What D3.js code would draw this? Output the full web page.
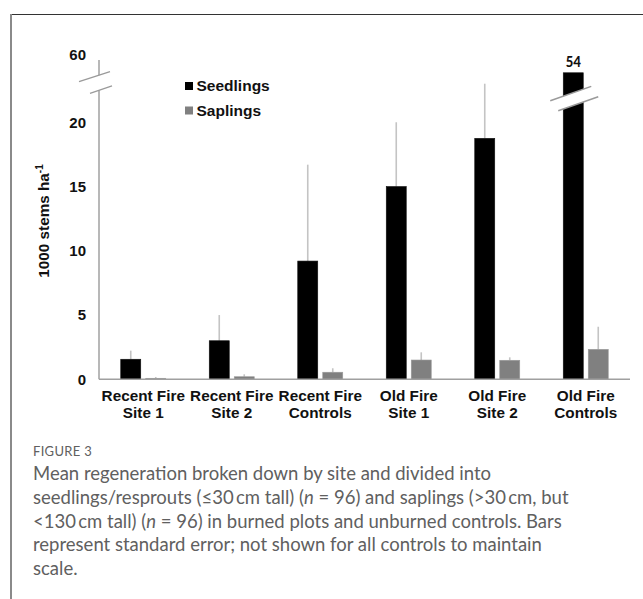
<!DOCTYPE html>
<html>
<head>
<meta charset="utf-8">
<script src="https://cdn.jsdelivr.net/npm/d3@7"></script>
<style>
  html, body { margin: 0; padding: 0; background: #fff; }
  svg { display: block; }
</style>
</head>
<body>
<svg id="chart" width="643" height="599"></svg>
<script>
// ---------- data ----------
const categories = ["Recent Fire Site 1", "Recent Fire Site 2", "Recent Fire Controls",
                    "Old Fire Site 1", "Old Fire Site 2", "Old Fire Controls"];
const seriesNames = ["Seedlings", "Saplings"];
const seedlings   = [1.56, 3.0, 9.2, 15.0, 18.75, 54];
const seedlingSE  = [0.67, 2.0, 7.5, 5.0, 4.25, null];
const saplings    = [0.08, 0.2, 0.55, 1.5, 1.48, 2.33];
const saplingSE   = [0.1, 0.19, 0.31, 0.6, 0.23, 1.76];
const yTickValues = [0, 5, 10, 15, 20, 25];
const yTickLabels = ["0", "5", "10", "15", "20", "60"];
const yAxisBreak  = [22.49, 23.66];   // broken axis segment
const barBreak    = [21.3, 22.3];     // break drawn on the clipped bar
const barCap      = 23.85;            // height at which off-scale bars are drawn
const yTitle = "1000 stems ha";
const captionHead = "FIGURE 3";
const captionLines = [
  [["Mean regeneration broken down by site and divided into", false]],
  [["seedlings/resprouts (≤30\u2009cm tall) (", false], ["n", true], [" = 96) and saplings (>30\u2009cm, but", false]],
  [["<130\u2009cm tall) (", false], ["n", true], [" = 96) in burned plots and unburned controls. Bars", false]],
  [["represent standard error; not shown for all controls to maintain", false]],
  [["scale.", false]]
];

// ---------- layout ----------
const svg = d3.select("#chart");
const left = 99, right = 630, baseY = 379.3, topY = 58;
const colors = { Seedlings: "#000000", Saplings: "#808080" };
const boldFont = "'Liberation Sans', Arial, sans-serif";

// frame
svg.append("line").attr("x1", 11).attr("x2", 643).attr("y1", 14.5).attr("y2", 14.5)
  .attr("stroke", "#333").attr("stroke-width", 1.2);
svg.append("line").attr("x1", 11).attr("x2", 11).attr("y1", 14).attr("y2", 599)
  .attr("stroke", "#8a8a8a").attr("stroke-width", 2);

const x = d3.scaleBand().domain(categories).range([left, right]).paddingInner(0).paddingOuter(0);
const xs = d3.scaleBand().domain(seriesNames)
  .range([x.bandwidth() / 2 - 22.5, x.bandwidth() / 2 + 22.5]).paddingInner(0.2).paddingOuter(0);
const y = d3.scaleLinear().domain([0, 25]).range([baseY, topY]);

const rows = categories.map((c, i) => ({
  cat: c,
  vals: [
    { s: "Seedlings", v: seedlings[i], se: seedlingSE[i] },
    { s: "Saplings", v: saplings[i], se: saplingSE[i] }
  ]
}));

// error bars (behind bars)
const g = svg.append("g");
rows.forEach(r => {
  r.vals.forEach(d => {
    if (d.se == null) return;
    const cx = x(r.cat) + xs(d.s) + xs.bandwidth() / 2;
    g.append("line").attr("x1", cx).attr("x2", cx)
      .attr("y1", y(Math.min(d.v, barCap))).attr("y2", y(d.v + d.se))
      .attr("stroke", "#c4c4c4").attr("stroke-width", 1.6);
  });
});

// bars
rows.forEach(r => {
  g.selectAll(null).data(r.vals).join("rect")
    .attr("x", d => x(r.cat) + xs(d.s))
    .attr("width", xs.bandwidth())
    .attr("y", d => y(Math.min(d.v, barCap)))
    .attr("height", d => baseY - y(Math.min(d.v, barCap)))
    .attr("fill", d => colors[d.s])
    .attr("stroke", d => d.s === "Saplings" ? "#9a9a9a" : "#111")
    .attr("stroke-width", 0.6);
});

// break on off-scale bar + value label
rows.forEach(r => {
  const d = r.vals[0];
  if (d.v <= barCap) return;
  const cx = x(r.cat) + xs(d.s) + xs.bandwidth() / 2;
  const ya = y(barBreak[1]), yb = y(barBreak[0]);
  const k = 0.35;
  const a1 = [cx - 23, ya + 23 * k], a2 = [cx + 18, ya - 18 * k];
  const b1 = [cx - 15, yb + 15 * k], b2 = [cx + 25, yb - 25 * k];
  svg.append("polygon")
    .attr("points", [[cx - 30, ya + 30 * k], [cx + 30, ya - 30 * k], [cx + 30, yb - 30 * k], [cx - 30, yb + 30 * k]].map(p => p.join(",")).join(" "))
    .attr("fill", "#fff");
  [[a1, a2], [b1, b2]].forEach(([p, q]) => {
    svg.append("line").attr("x1", p[0]).attr("y1", p[1]).attr("x2", q[0]).attr("y2", q[1])
      .attr("stroke", "#9a9a9a").attr("stroke-width", 1.5);
  });
  svg.append("text").attr("x", cx).attr("y", y(barCap) - 6)
    .attr("text-anchor", "middle").attr("font-family", "Carlito, 'Liberation Sans', Arial, sans-serif")
    .attr("font-weight", "bold").attr("font-size", 15).attr("fill", "#111").text(d3.format("d")(d.v));
});

// x axis line
svg.append("line").attr("x1", left).attr("x2", right).attr("y1", baseY).attr("y2", baseY)
  .attr("stroke", "#a0a0a0").attr("stroke-width", 1.5);

// y axis line with break
const yBrTop = y(yAxisBreak[1]), yBrBot = y(yAxisBreak[0]);
svg.append("line").attr("x1", left).attr("x2", left).attr("y1", y(25) + 2).attr("y2", yBrTop)
  .attr("stroke", "#a0a0a0").attr("stroke-width", 1.5);
svg.append("line").attr("x1", left).attr("x2", left).attr("y1", yBrBot).attr("y2", baseY)
  .attr("stroke", "#a0a0a0").attr("stroke-width", 1.5);
svg.append("line").attr("x1", left - 20).attr("y1", yBrTop + 6.4).attr("x2", left + 11).attr("y2", yBrTop - 3.6)
  .attr("stroke", "#9a9a9a").attr("stroke-width", 1.3);
svg.append("line").attr("x1", left - 9).attr("y1", yBrBot + 3).attr("x2", left + 13).attr("y2", yBrBot - 4.3)
  .attr("stroke", "#9a9a9a").attr("stroke-width", 1.3);

// y axis labels
const yAxis = d3.axisLeft(y).tickValues(yTickValues).tickSize(0).tickPadding(13)
  .tickFormat((d, i) => yTickLabels[i]);
const ya = svg.append("g").attr("transform", `translate(${left},0)`).call(yAxis);
ya.select(".domain").remove();
ya.selectAll("text").attr("font-family", boldFont).attr("font-weight", "bold")
  .attr("font-size", 15).attr("fill", "#111");
ya.selectAll(".tick").filter(d => d === 25).select("text").attr("dy", "0.1em");

// x axis labels
const xa = svg.append("g").attr("transform", `translate(0,${baseY})`)
  .call(d3.axisBottom(x).tickSize(0).tickFormat(""));
xa.select(".domain").remove();
xa.selectAll(".tick").each(function (c) {
  const parts = c.split(/(?<=Fire) /);
  const t = d3.select(this).append("text").attr("text-anchor", "middle")
    .attr("font-family", boldFont).attr("font-weight", "bold").attr("font-size", 15.3).attr("fill", "#111");
  parts.forEach((p, i) => t.append("tspan").attr("x", 0).attr("y", 22 + i * 17).text(p));
});

// y title
const yt = svg.append("text").attr("transform", "translate(49,221) rotate(-90)")
  .attr("text-anchor", "middle").attr("font-family", boldFont).attr("font-weight", "bold")
  .attr("font-size", 15.3).attr("fill", "#111");
yt.append("tspan").text(yTitle);
yt.append("tspan").attr("font-size", 10).attr("dy", "-0.6em").text("-1");

// legend
const lg = svg.append("g").attr("transform", "translate(185,82)");
seriesNames.forEach((s, i) => {
  lg.append("rect").attr("x", 0).attr("y", i * 24.5).attr("width", 8).attr("height", 8).attr("fill", colors[s]);
  lg.append("text").attr("x", 11.5).attr("y", i * 24.5 + 4).attr("dy", "0.35em")
    .attr("font-family", boldFont).attr("font-weight", "bold").attr("font-size", 15.5).attr("fill", "#111").text(s);
});

// caption
const capFont = "Lato, 'Open Sans', sans-serif";
svg.append("text").attr("x", 33).attr("y", 456).attr("font-family", capFont)
  .attr("font-size", 13).attr("fill", "#606060").attr("letter-spacing", 0.3).text(captionHead);
const cap = svg.append("g");
captionLines.forEach((segs, i) => {
  const t = cap.append("text").attr("x", 33).attr("y", 480 + i * 23.8)
    .attr("font-family", capFont).attr("font-size", 17).attr("fill", "#606060");
  segs.forEach(([s, it]) => t.append("tspan").attr("font-style", it ? "italic" : "normal").text(s));
});
// fit caption width to the reference line width
const w2 = cap.selectAll("text").nodes()[1].getComputedTextLength();
const fs = Math.min(18.5, 17 * 575 / w2);
cap.selectAll("text").attr("font-size", fs.toFixed(2));
</script>
</body>
</html>
